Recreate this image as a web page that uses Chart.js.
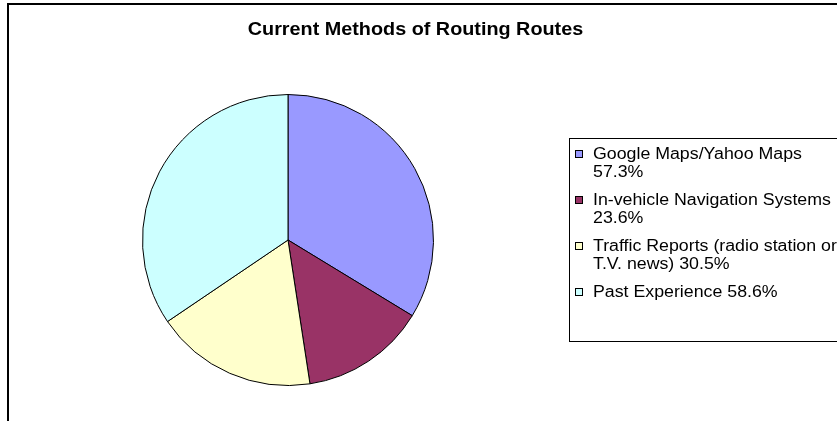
<!DOCTYPE html>
<html lang="en">
<head>
  <meta charset="UTF-8" />
  <title>Current Methods of Routing Routes</title>
  <script src="https://cdn.jsdelivr.net/npm/chart.js"></script>
  <style>
    html, body { margin: 0; padding: 0; background: #fff; overflow: hidden; }
    body { width: 837px; height: 421px; position: relative; font-family: "Liberation Sans", Arial, sans-serif; }
    #frame { position: absolute; left: 7px; top: 3px; width: 900px; height: 500px; border: 2px solid #000; box-sizing: border-box; }
    #chart { position: absolute; left: 0; top: 0; }
    #title { position: absolute; left: 0; width: 830px; top: 19px; text-align: center; font-weight: bold; font-size: 18px; line-height: 20px; color: #000; }
    #title span { display: inline-block; transform: scaleX(1.1); }
    #legend { position: absolute; left: 569px; top: 138px; width: 300px; height: 204px; border: 1px solid #000; box-sizing: border-box; }
    .item { position: absolute; left: 0; }
    .sw { position: absolute; left: 5px; top: 5px; width: 8px; height: 8px; border: 1px solid #000; box-sizing: border-box; }
    .txt { position: absolute; left: 23px; top: 0; font-size: 16px; line-height: 18px; white-space: pre; color: #000; transform: scaleX(1.11); transform-origin: 0 0; }
  </style>
</head>
<body>
  <div id="frame"></div>
  <canvas id="chart" width="837" height="421"></canvas>
  <div id="title"><span>Current Methods of Routing Routes</span></div>
  <div id="legend"></div>

  <script>
    const labels = ['Google Maps/Yahoo Maps', 'In-vehicle Navigation Systems', 'Traffic Reports (radio station or\nT.V. news)', 'Past Experience'];
    const values = [57.3, 23.6, 30.5, 58.6];
    const colors = ['#9999FF', '#993366', '#FFFFCC', '#CCFFFF'];
    // how the value joins its label in the legend (Excel wrapped these)
    const joins = ['\n', '\n', ' ', ' '];
    const itemTops = [6, 52, 98, 144];

    // legend
    const legend = document.getElementById('legend');
    labels.forEach((l, i) => {
      const item = document.createElement('div');
      item.className = 'item';
      item.style.top = itemTops[i] + 'px';
      const sw = document.createElement('div');
      sw.className = 'sw';
      sw.style.background = colors[i];
      const txt = document.createElement('div');
      txt.className = 'txt';
      txt.textContent = l + joins[i] + values[i] + '%';
      item.appendChild(sw);
      item.appendChild(txt);
      legend.appendChild(item);
    });

    new Chart(document.getElementById('chart'), {
      type: 'pie',
      data: {
        labels: labels,
        datasets: [{
          data: values,
          backgroundColor: colors,
          borderColor: '#000',
          borderWidth: 1,
          hoverOffset: 0
        }]
      },
      options: {
        responsive: false,
        animation: false,
        layout: { padding: { left: 142, right: 403, top: 94, bottom: 35 } },
        plugins: {
          legend: { display: false },
          title: { display: false },
          tooltip: { enabled: false }
        }
      }
    });
  </script>
</body>
</html>
